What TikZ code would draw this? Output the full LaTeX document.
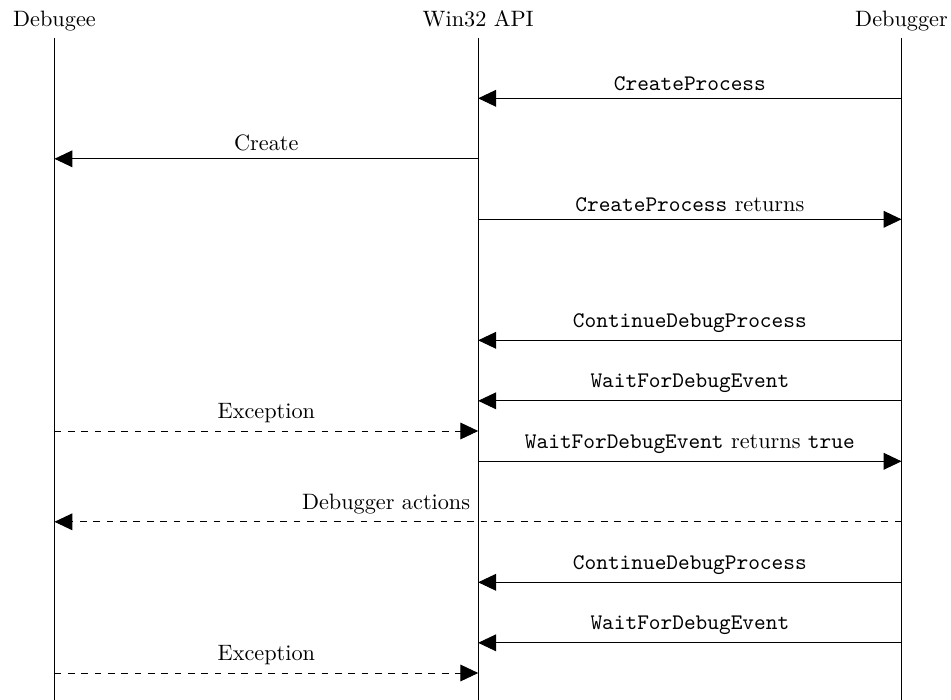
\documentclass[tikz,border=0pt]{standalone}
\usetikzlibrary{arrows.meta}
\begin{document}
\begin{tikzpicture}[x=0.4492pt,y=-0.4492pt,
  head/.style={anchor=base,inner sep=0pt},
  life/.style={line width=0.4pt},
  msg/.style={-{Triangle[length=8pt,width=7.5pt]},line width=0.4pt},
  ret/.style={msg,dashed},
  lbl/.style={above,midway}
]
\useasboundingbox (0,0) rectangle (951,700);
% headers
\node[head] (dee) at (54.5,26) {Debugee};
\node[head] (api) at (478.2,26) {Win32 API};
\node[head] (dbg) at (901.5,26) {Debugger};
% lifelines
\coordinate (deeT) at (54.5,38.3);
\coordinate (deeB) at (54.5,700);
\coordinate (apiT) at (478.2,38.3);
\coordinate (apiB) at (478.2,700);
\coordinate (dbgT) at (901.5,38.3);
\coordinate (dbgB) at (901.5,700);
\draw[life] (deeT) -- (deeB);
\draw[life] (apiT) -- (apiB);
\draw[life] (dbgT) -- (dbgB);
% message points
\foreach \n/\y in {1/98.3,2/158.8,3/219.3,4/340.3,5/400.8,6/431,7/461.3,8/521.8,9/582.3,10/642.8,11/673}{
  \coordinate (e\n) at (54.5,\y);
  \coordinate (a\n) at (478.2,\y);
  \coordinate (g\n) at (901.5,\y);
}
\draw[msg] (g1) -- node[lbl] {\texttt{CreateProcess}} (a1);
\draw[msg] (a2) -- node[lbl] {Create} (e2);
\draw[msg] (a3) -- node[lbl] {\texttt{CreateProcess} returns} (g3);
\draw[msg] (g4) -- node[lbl] {\texttt{ContinueDebugProcess}} (a4);
\draw[msg] (g5) -- node[lbl] {\texttt{WaitForDebugEvent}} (a5);
\draw[ret] (e6) -- node[lbl] {Exception} (a6);
\draw[msg] (a7) -- node[lbl] {\texttt{WaitForDebugEvent} returns \texttt{true}} (g7);
\draw[ret] (g8) -- node[midway,anchor=south east] {Debugger actions} (e8);
\draw[msg] (g9) -- node[lbl] {\texttt{ContinueDebugProcess}} (a9);
\draw[msg] (g10) -- node[lbl] {\texttt{WaitForDebugEvent}} (a10);
\draw[ret] (e11) -- node[lbl] {Exception} (a11);
\end{tikzpicture}
\end{document}
